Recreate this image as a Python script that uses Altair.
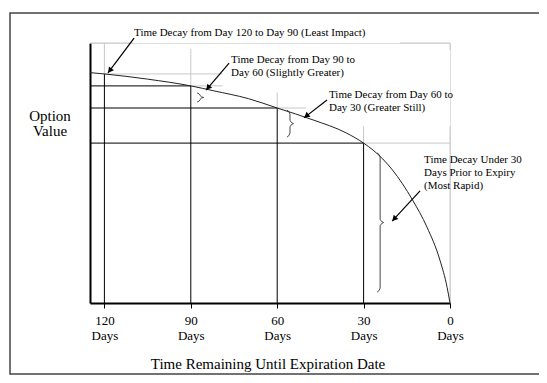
import math
import altair as alt
import pandas as pd

# ---------------- data ----------------
curve_days = [125, 120, 105, 90, 82, 70, 60, 47.5, 36, 30, 26.7, 20, 13, 8, 3.5, 1, 0]
curve_vals = [88.6, 88.1, 86.1, 83.5, 81.6, 78.6, 75.0, 70.4, 65.4, 61.5, 58.8, 51.2, 39.6, 29.2, 16.5, 6.0, 0.0]

tick_days = [120, 90, 60, 30, 0]

# black reference lines: horizontal levels (from y-axis to the day) and verticals
h_levels = [83.5, 75.0, 61.5]
h_ends = [90, 60, 30]
v_days = [120, 90, 60, 30]
v_tops = [88.1, 83.5, 75.0, 61.5]

# faint grey construction lines (x, x2, y, y2)
grey_x = [125, 17.4, 0, 120, 120, 90, 90, 60, 60, 30, 30, 0]
grey_x2 = [110, 0, 0, 120, 79, 79, 90, 60, 50, 30, 0, 0]
grey_y = [100, 100, 100, 88.1, 88.1, 83.5, 83.5, 75, 75, 61.5, 61.5, 0]
grey_y2 = [100, 100, 97.3, 100, 88.1, 83.5, 97.7, 81, 75, 68, 61.5, 68]

# annotation text lines
ann_text = [
    "Time Decay from Day 120 to Day 90 (Least Impact)",
    "Time Decay from Day 90 to",
    "Day 60 (Slightly Greater)",
    "Time Decay from Day 60 to",
    " Day 30 (Greater Still)",
    "Time Decay Under 30",
    "Days Prior to Expiry",
    "(Most Rapid)",
]
ann_day = [109.7, 76.0, 76.0, 42.0, 42.0, 9.0, 9.0, 9.0]
ann_val = [103.8, 93.5, 88.6, 80.0, 75.0, 55.0, 50.0, 45.0]

# arrows: start -> tip
arr_d0 = [109.7, 76.7, 42.7, 10.4]
arr_v0 = [101.9, 92.3, 78.1, 43.1]
arr_d1 = [118.75, 84.7, 50.7, 20.1]
arr_v1 = [88.5, 81.9, 71.2, 31.5]

# braces: day position, top value, bottom value
br_day = [87.8, 56.6, 25.3]
br_top = [80.8, 74.2, 57.7]
br_bot = [77.3, 63.8, 4.2]

# ---------------- geometry helpers ----------------
W, H = 360, 260
DMAX, VMAX = 125, 100
PX_D = W / DMAX  # pixels per day
PX_V = H / VMAX  # pixels per value unit

FONT = "Liberation Serif"

xsc = alt.Scale(domain=[0, DMAX], reverse=True, nice=False, zero=False)
ysc = alt.Scale(domain=[0, VMAX], nice=False, zero=False)

curve_df = pd.DataFrame({"d": curve_days, "v": curve_vals})

h_df = pd.DataFrame({"d": [DMAX] * len(h_levels), "d2": h_ends, "v": h_levels, "v2": h_levels})
v_df = pd.DataFrame({"d": v_days, "d2": v_days, "v": [0] * len(v_days), "v2": v_tops})
grey_df = pd.DataFrame({"d": grey_x, "d2": grey_x2, "v": grey_y, "v2": grey_y2})
ann_df = pd.DataFrame({"t": ann_text, "d": ann_day, "v": ann_val})
arr_df = pd.DataFrame({"d": arr_d0, "d2": arr_d1, "v": arr_v0, "v2": arr_v1})

# arrow heads
heads = []
for d0, v0, d1, v1 in zip(arr_d0, arr_v0, arr_d1, arr_v1):
    dx = -(d1 - d0) * PX_D
    dy = -(v1 - v0) * PX_V
    L = math.hypot(dx, dy)
    ux, uy = dx / L, dy / L
    ang = math.degrees(math.atan2(ux, -uy)) % 360
    back = 3.0
    heads.append({"d": d1 + back * ux / PX_D, "v": v1 + back * uy / PX_V, "a": ang})
head_df = pd.DataFrame(heads)

# braces as poly-lines
brace_rows = []
for i, (d, top, bot) in enumerate(zip(br_day, br_top, br_bot)):
    hpx = (top - bot) * PX_V
    c = min(4.0, hpx / 4)  # curl length in px
    body = 3.0
    tip = 6.5
    mid = (top + bot) / 2
    pts = [
        (0, top, 0),
        (body * 0.6, top, -c * 0.35),
        (body, top, -c),
        (body, mid, c * 0.8),
        (body + 1.5, mid, c * 0.25),
        (tip, mid, 0),
        (body + 1.5, mid, -c * 0.25),
        (body, mid, -c * 0.8),
        (body, bot, c),
        (body * 0.6, bot, c * 0.35),
        (0, bot, 0),
    ]
    for k, (ox, base, oy) in enumerate(pts):
        brace_rows.append({"b": i, "k": k, "d": d - ox / PX_D, "v": base + oy / PX_V})
brace_df = pd.DataFrame(brace_rows)

x_axis = alt.Axis(
    values=tick_days,
    labelExpr="[datum.label, 'Days']",
    tickSize=5, tickColor="black", tickWidth=1,
    domainColor="black", domainWidth=2,
    labelFont=FONT, labelFontSize=13, labelColor="black", labelLineHeight=15,
    labelPadding=6, grid=False, title=None, labelFlush=False, labelOverlap=False,
)
y_axis = alt.Axis(domainColor="black", domainWidth=2, ticks=False, labels=False, grid=False, title=None)

X = lambda: alt.X("d:Q", scale=xsc, axis=x_axis)
Y = lambda: alt.Y("v:Q", scale=ysc, axis=y_axis)

one = pd.DataFrame({"z": [0]})

border = alt.Chart(one).mark_rect(fillOpacity=0, stroke="#444", strokeWidth=1.5).encode(
    x=alt.value(-80), x2=alt.value(470), y=alt.value(-30), y2=alt.value(331)
)

grey = alt.Chart(grey_df).mark_rule(color="#c8c8c8", strokeWidth=1).encode(
    x=X(), x2="d2:Q", y=Y(), y2="v2:Q"
)
hl = alt.Chart(h_df).mark_rule(color="black", strokeWidth=1).encode(x=X(), x2="d2:Q", y=Y(), y2="v2:Q")
vl = alt.Chart(v_df).mark_rule(color="black", strokeWidth=1).encode(x=X(), x2="d2:Q", y=Y(), y2="v2:Q")

curve = alt.Chart(curve_df).mark_line(color="#222", strokeWidth=1, interpolate="monotone").encode(
    x=X(), y=Y()
)

arrows = alt.Chart(arr_df).mark_rule(color="black", strokeWidth=1.2).encode(
    x=X(), x2="d2:Q", y=Y(), y2="v2:Q"
)
arrow_heads = alt.Chart(head_df).mark_point(
    shape="triangle-up", filled=True, color="black", size=40, opacity=1
).encode(x=X(), y=Y(), angle=alt.Angle("a:Q", scale=None))

braces = alt.Chart(brace_df).mark_line(color="#333", strokeWidth=0.9).encode(
    x=X(), y=Y(), detail="b:N", order="k:Q"
)

ann = alt.Chart(ann_df).mark_text(
    align="left", baseline="middle", font=FONT, fontSize=11, color="black"
).encode(x=X(), y=Y(), text="t:N")

opt1 = alt.Chart(one).mark_text(font=FONT, fontSize=15, color="black", align="center", baseline="middle").encode(
    x=alt.value(-40), y=alt.value(73), text=alt.value("Option")
)
opt2 = alt.Chart(one).mark_text(font=FONT, fontSize=15, color="black", align="center", baseline="middle").encode(
    x=alt.value(-40), y=alt.value(88), text=alt.value("Value")
)
xtitle = alt.Chart(one).mark_text(font=FONT, fontSize=15, color="black", align="center", baseline="middle").encode(
    x=alt.value(178), y=alt.value(321), text=alt.value("Time Remaining Until Expiration Date")
)

chart = alt.layer(
    border, grey, hl, vl, curve, braces, arrows, arrow_heads, ann, opt1, opt2, xtitle
).properties(
    width=W, height=H,
    autosize=alt.AutoSizeParams(type="none"),
    padding={"left": 82, "top": 35, "right": 89, "bottom": 72},
).configure_view(stroke=None).configure(background="white")

chart.save("out.html", embed_options={"renderer": "svg", "actions": False})
